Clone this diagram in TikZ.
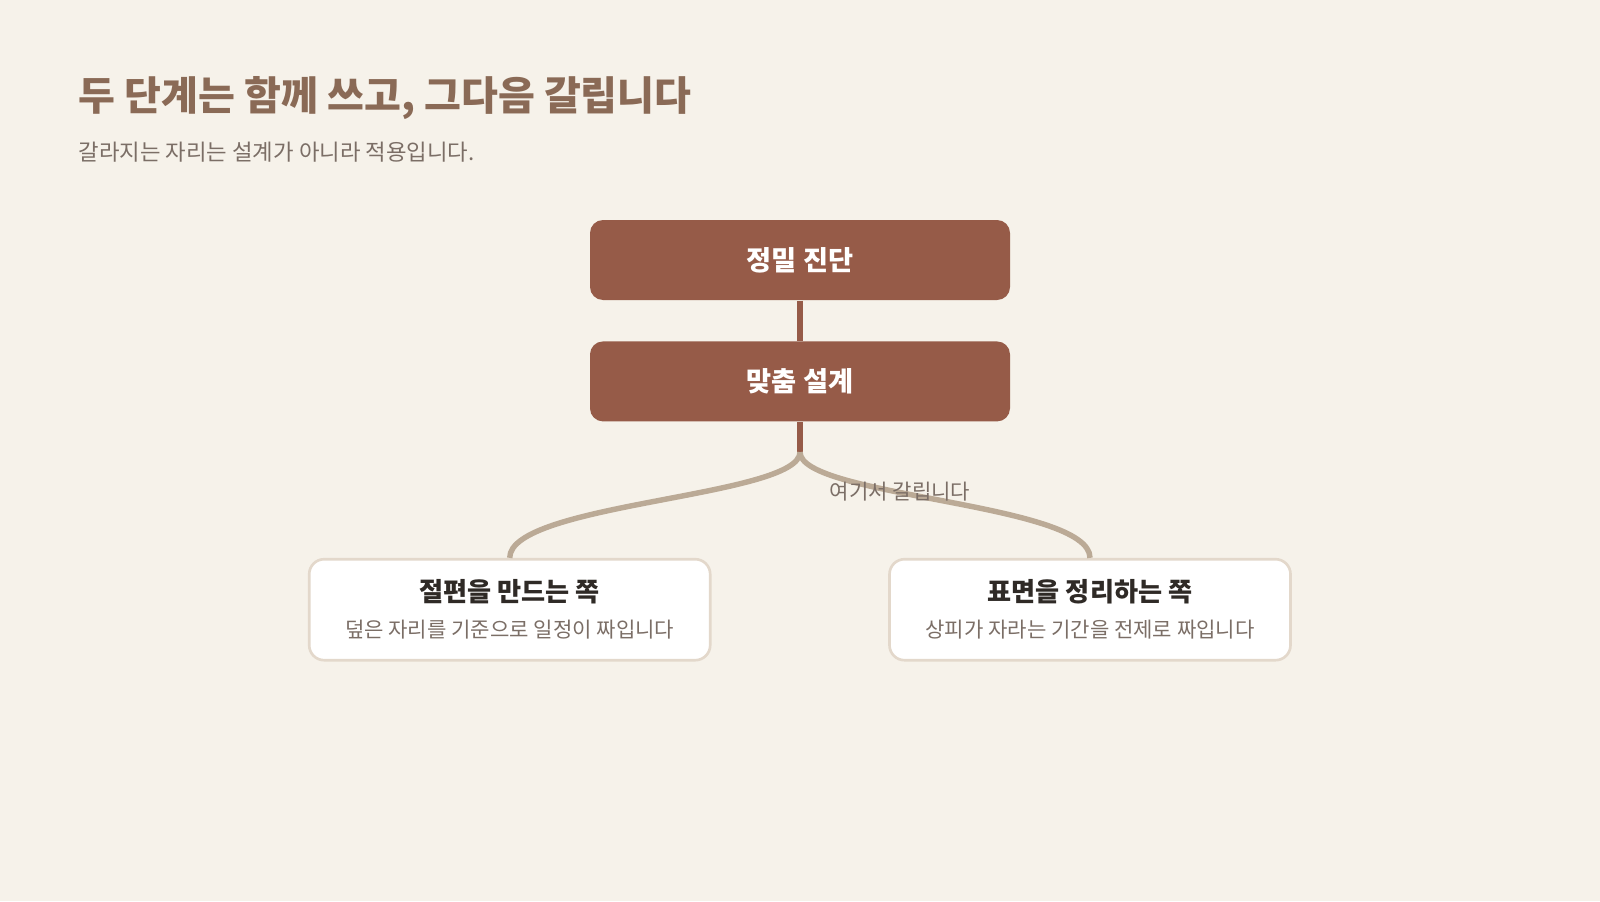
\documentclass[tikz,border=0pt]{standalone}
\usepackage{fontspec}
\setmainfont{Noto Sans CJK KR}
\usepackage{tikz}
\usetikzlibrary{positioning, calc}

\definecolor{bgcream}{HTML}{F6F2EA}
\definecolor{titlebrown}{HTML}{8A6A56}
\definecolor{subgray}{HTML}{7B6E66}
\definecolor{boxbrown}{HTML}{965B48}
\definecolor{forktan}{HTML}{BBAA96}
\definecolor{edgebeige}{HTML}{E3D8CB}
\definecolor{darktext}{HTML}{2F2A26}

\begin{document}
\begin{tikzpicture}[
    stagebox/.style={draw=none, fill=boxbrown, rounded corners=0.13cm, minimum width=4.20cm, minimum height=0.80cm, text=white, font=\fontsize{7.75pt}{9pt}\selectfont\bfseries},
    branchbox/.style={draw=edgebeige, line width=0.75pt, fill=white, rounded corners=0.15cm, minimum width=4.01cm, minimum height=1.01cm},
    branchtitle/.style={text=darktext, font=\fontsize{7.45pt}{8pt}\selectfont\bfseries},
    branchnote/.style={text=subgray, font=\fontsize{6.0pt}{7pt}\selectfont},
    stemline/.style={draw=boxbrown, line width=1.55pt},
    forkline/.style={draw=forktan, line width=1.55pt}
]
% Background and page size
\fill[bgcream] (0,0) rectangle (16,-9.01);
\useasboundingbox (0,0) rectangle (16,-9.01);

% Heading
\node[anchor=base west, text=titlebrown, font=\fontsize{11.4pt}{13pt}\selectfont\bfseries, inner sep=0] (title) at (0.78,-1.11) {두 단계는 함께 쓰고, 그다음 갈립니다};
\node[anchor=base west, text=subgray, font=\fontsize{6.35pt}{7pt}\selectfont, inner sep=0] (subtitle) at (0.78,-1.60) {갈라지는 자리는 설계가 아니라 적용입니다.};

% Shared stages
\node[stagebox] (diag) at (8.00,-2.60) {정밀 진단};
\node[stagebox, below=0.40cm of diag] (design) {맞춤 설계};
\draw[stemline] (diag.south) -- (design.north);

% Fork point
\coordinate (fork) at ($(design.south)+(0,-0.30)$);
\draw[stemline] (design.south) -- (fork);

% Branches
\node[branchbox] (cut) at (5.097,-6.097) {};
\node[branchtitle] at ([yshift=0.18cm]cut.center) {절편을 만드는 쪽};
\node[branchnote] at ([yshift=-0.20cm]cut.center) {덮은 자리를 기준으로 일정이 짜입니다};

\node[branchbox] (surf) at (10.90,-6.097) {};
\node[branchtitle] at ([yshift=0.18cm]surf.center) {표면을 정리하는 쪽};
\node[branchnote] at ([yshift=-0.20cm]surf.center) {상피가 자라는 기간을 전제로 짜입니다};

\draw[forkline] (fork) .. controls ($(fork)+(0,-0.45)$) and ($(cut.north)+(0,0.55)$) .. (cut.north);
\draw[forkline] (fork) .. controls ($(fork)+(0,-0.45)$) and ($(surf.north)+(0,0.55)$) .. (surf.north);

\node[text=subgray, font=\fontsize{6.0pt}{7pt}\selectfont] (splitlabel) at (9.00,-4.92) {여기서 갈립니다};
\end{tikzpicture}
\end{document}
